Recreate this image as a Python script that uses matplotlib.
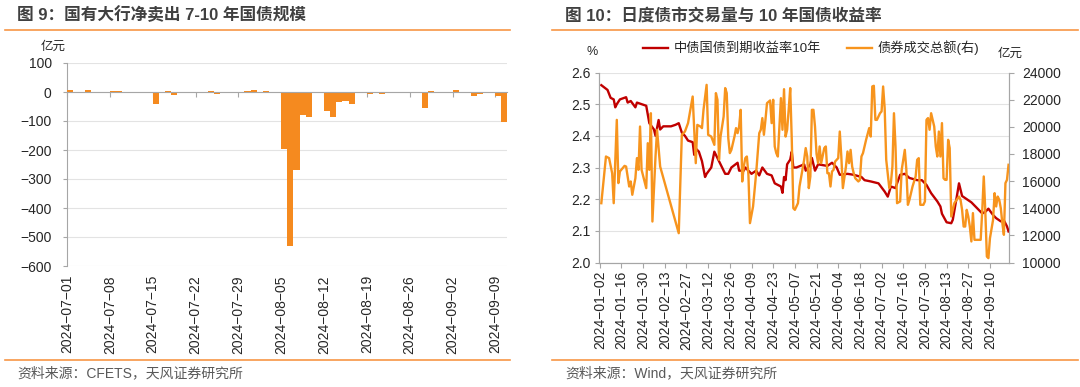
import matplotlib
matplotlib.use('Agg')
import matplotlib.pyplot as plt
import matplotlib.dates as mdates
from matplotlib.lines import Line2D
from matplotlib.ticker import FuncFormatter, FixedLocator
import pandas as pd

plt.rcParams['font.family'] = ['Liberation Sans', 'Noto Sans CJK SC']
plt.rcParams['axes.unicode_minus'] = True

# ---------------- data: left chart (亿元) ----------------
bar_dates = ['2024-07-01', '2024-07-02', '2024-07-04', '2024-07-05', '2024-07-08', '2024-07-09',
             '2024-07-11', '2024-07-12', '2024-07-15', '2024-07-17', '2024-07-18', '2024-07-19',
             '2024-07-23', '2024-07-24', '2024-07-25', '2024-07-26', '2024-07-30', '2024-07-31',
             '2024-08-02', '2024-08-05', '2024-08-06', '2024-08-07', '2024-08-08', '2024-08-09',
             '2024-08-12', '2024-08-13', '2024-08-14', '2024-08-15', '2024-08-16', '2024-08-19',
             '2024-08-21', '2024-08-23', '2024-08-26', '2024-08-28', '2024-08-29', '2024-08-30',
             '2024-09-02', '2024-09-03', '2024-09-05', '2024-09-06', '2024-09-09', '2024-09-10']
bar_values = [7, -3, 7, -3, 4, 3,
              -5, -2, -40, 3, -12, -2,
              -2, 4, -8, -2, 4, 6,
              4, -197, -531, -269, -79, -86,
              -64, -86, -36, -32, -40, -8,
              -8, -3, -2, -55, 2, 1,
              6, 1, -15, -8, -13, -105]
left_ticks = ['2024-07-01', '2024-07-08', '2024-07-15', '2024-07-22', '2024-07-29', '2024-08-05',
              '2024-08-12', '2024-08-19', '2024-08-26', '2024-09-02', '2024-09-09']

# ---------------- data: right chart ----------------
yield_dates = ['2024-01-03', '2024-01-07', '2024-01-09', '2024-01-11', '2024-01-12', '2024-01-13',
               '2024-01-15', '2024-01-19', '2024-01-20', '2024-01-22', '2024-01-25', '2024-01-26',
               '2024-01-29', '2024-02-01', '2024-02-03', '2024-02-06', '2024-02-07', '2024-02-09',
               '2024-02-10', '2024-02-12', '2024-02-17', '2024-02-20', '2024-02-22', '2024-02-24',
               '2024-02-26', '2024-02-28', '2024-03-02', '2024-03-03', '2024-03-04', '2024-03-06',
               '2024-03-08', '2024-03-10', '2024-03-11', '2024-03-14', '2024-03-16', '2024-03-18',
               '2024-03-20', '2024-03-23', '2024-03-25', '2024-03-27', '2024-03-31', '2024-04-01',
               '2024-04-04', '2024-04-05', '2024-04-09', '2024-04-12', '2024-04-14', '2024-04-16',
               '2024-04-19', '2024-04-22', '2024-04-24', '2024-04-28', '2024-04-29', '2024-04-30',
               '2024-05-01', '2024-05-02', '2024-05-04', '2024-05-05', '2024-05-06', '2024-05-08',
               '2024-05-13', '2024-05-14', '2024-05-17', '2024-05-18', '2024-05-20', '2024-05-22',
               '2024-05-28', '2024-05-31', '2024-06-03', '2024-06-05', '2024-06-10', '2024-06-14',
               '2024-06-19', '2024-06-21', '2024-06-25', '2024-06-30', '2024-07-04', '2024-07-06',
               '2024-07-08', '2024-07-11', '2024-07-12', '2024-07-14', '2024-07-17', '2024-07-20',
               '2024-07-25', '2024-07-28', '2024-07-31', '2024-08-03', '2024-08-07', '2024-08-09',
               '2024-08-10', '2024-08-11', '2024-08-13', '2024-08-16', '2024-08-17', '2024-08-20',
               '2024-08-21', '2024-08-23', '2024-08-26', '2024-08-29', '2024-09-02', '2024-09-05',
               '2024-09-07', '2024-09-09', '2024-09-12', '2024-09-14', '2024-09-17', '2024-09-19',
               '2024-09-21', '2024-09-22']
yield_values = [2.56, 2.545, 2.52, 2.515, 2.49, 2.50,
                2.515, 2.522, 2.505, 2.51, 2.49, 2.505,
                2.50, 2.495, 2.44, 2.42, 2.40, 2.45,
                2.42, 2.43, 2.43, 2.435, 2.44, 2.41,
                2.40, 2.385, 2.38, 2.34, 2.36, 2.35,
                2.32, 2.27, 2.28, 2.30, 2.35, 2.33,
                2.31, 2.28, 2.28, 2.30, 2.315, 2.29,
                2.29, 2.30, 2.28, 2.29, 2.275, 2.30,
                2.28, 2.275, 2.25, 2.24, 2.22, 2.27,
                2.26, 2.31, 2.325, 2.35, 2.30, 2.30,
                2.31, 2.29, 2.31, 2.33, 2.29, 2.31,
                2.305, 2.315, 2.30, 2.277, 2.28, 2.277,
                2.27, 2.26, 2.256, 2.25, 2.224, 2.208,
                2.24, 2.235, 2.25, 2.277, 2.28, 2.267,
                2.26, 2.26, 2.245, 2.219, 2.193, 2.177,
                2.154, 2.145, 2.127, 2.124, 2.135, 2.22,
                2.25, 2.21, 2.20, 2.19, 2.17, 2.155,
                2.16, 2.17, 2.15, 2.14, 2.13, 2.133,
                2.114, 2.098]

vol_dates = ['2024-01-03', '2024-01-06', '2024-01-08', '2024-01-10', '2024-01-11', '2024-01-13',
             '2024-01-14', '2024-01-15', '2024-01-18', '2024-01-19', '2024-01-21', '2024-01-22',
             '2024-01-23', '2024-01-25', '2024-01-26', '2024-01-27', '2024-01-28', '2024-01-29',
             '2024-02-01', '2024-02-02', '2024-02-03', '2024-02-04', '2024-02-05', '2024-02-07',
             '2024-02-08', '2024-02-10', '2024-02-22', '2024-02-24', '2024-02-26', '2024-02-28',
             '2024-03-02', '2024-03-03', '2024-03-04', '2024-03-05', '2024-03-07', '2024-03-08',
             '2024-03-09', '2024-03-11', '2024-03-12', '2024-03-14', '2024-03-16', '2024-03-17',
             '2024-03-18', '2024-03-19', '2024-03-20', '2024-03-22', '2024-03-23', '2024-03-24',
             '2024-03-25', '2024-03-26', '2024-03-27', '2024-03-29', '2024-03-30', '2024-03-31',
             '2024-04-01', '2024-04-02', '2024-04-03', '2024-04-04', '2024-04-05', '2024-04-06',
             '2024-04-07', '2024-04-08', '2024-04-10', '2024-04-11', '2024-04-12', '2024-04-14',
             '2024-04-15', '2024-04-16', '2024-04-17', '2024-04-18', '2024-04-19', '2024-04-21',
             '2024-04-22', '2024-04-23', '2024-04-24', '2024-04-25', '2024-04-26', '2024-04-27',
             '2024-04-28', '2024-04-29', '2024-04-30', '2024-05-01', '2024-05-02', '2024-05-03',
             '2024-05-04', '2024-05-05', '2024-05-06', '2024-05-07', '2024-05-09', '2024-05-10',
             '2024-05-13', '2024-05-14', '2024-05-15', '2024-05-16', '2024-05-17', '2024-05-18',
             '2024-05-19', '2024-05-20', '2024-05-21', '2024-05-22', '2024-05-23', '2024-05-24',
             '2024-05-26', '2024-05-27', '2024-05-28', '2024-05-29', '2024-05-30', '2024-05-31',
             '2024-06-01', '2024-06-02', '2024-06-04', '2024-06-05', '2024-06-06', '2024-06-07',
             '2024-06-09', '2024-06-10', '2024-06-11', '2024-06-12', '2024-06-13', '2024-06-14',
             '2024-06-15', '2024-06-17', '2024-06-18', '2024-06-19', '2024-06-20', '2024-06-21',
             '2024-06-22', '2024-06-24', '2024-06-25', '2024-06-26', '2024-06-27', '2024-06-28',
             '2024-06-29', '2024-07-01', '2024-07-02', '2024-07-03', '2024-07-04', '2024-07-05',
             '2024-07-07', '2024-07-08', '2024-07-09', '2024-07-10', '2024-07-11', '2024-07-12',
             '2024-07-14', '2024-07-15', '2024-07-17', '2024-07-18', '2024-07-19', '2024-07-20',
             '2024-07-22', '2024-07-24', '2024-07-25', '2024-07-26', '2024-07-27', '2024-07-29',
             '2024-07-30', '2024-07-31', '2024-08-01', '2024-08-02', '2024-08-03', '2024-08-05',
             '2024-08-06', '2024-08-07', '2024-08-08', '2024-08-09', '2024-08-10', '2024-08-11',
             '2024-08-12', '2024-08-13', '2024-08-14', '2024-08-15', '2024-08-16', '2024-08-18',
             '2024-08-21', '2024-08-22', '2024-08-23', '2024-08-24', '2024-08-25', '2024-08-26',
             '2024-08-27', '2024-08-28', '2024-08-29', '2024-08-30', '2024-08-31', '2024-09-02',
             '2024-09-04', '2024-09-05', '2024-09-06', '2024-09-07', '2024-09-08', '2024-09-09',
             '2024-09-10', '2024-09-12', '2024-09-13', '2024-09-14', '2024-09-15', '2024-09-16',
             '2024-09-17', '2024-09-18', '2024-09-19', '2024-09-20', '2024-09-21', '2024-09-22']
vol_values = [14370, 17810, 17690, 16580, 14370, 20510,
              15850, 16710, 17120, 17070, 15600, 15970,
              14990, 16210, 17690, 16830, 20020, 16830,
              15480, 18790, 16830, 21000, 13020, 17810,
              19780, 17070, 12160, 19410, 19650, 20270,
              22230, 19780, 17320, 20140, 20020, 19900,
              21250, 23090, 19410, 19280, 18670, 22480,
              21990, 17570, 19280, 20760, 22850, 22480,
              19160, 18060, 18300, 19280, 19900, 19530,
              20020, 21250, 15970, 17070, 17690, 17810,
              16460, 12900, 14130, 15360, 16580, 19530,
              19780, 20640, 19410, 20510, 21740, 21940,
              20270, 21990, 18550, 18060, 17810, 19900,
              22110, 19780, 22770, 19280, 19780, 21250,
              22850, 19040, 14000, 13880, 14370, 15600,
              17570, 18430, 17810, 15480, 16340, 21250,
              21250, 20020, 18000, 17320, 18550, 17320,
              18430, 18550, 16580, 16580, 15600, 16710,
              16830, 17440, 17690, 19650, 17810, 15480,
              17070, 18180, 17320, 18300, 17070, 16580,
              16210, 15970, 16090, 17810, 18060, 18550,
              19040, 19900, 19280, 22970, 23020, 20510,
              20510, 21000, 21130, 22970, 21370, 17570,
              15480, 15850, 17070, 21000, 18550, 14370,
              14500, 16830, 18300, 16830, 14250, 14620,
              15600, 16340, 17570, 17690, 14250, 14250,
              14500, 20510, 20640, 19780, 21000, 20020,
              18550, 17810, 19650, 17810, 20270, 16210,
              16090, 16090, 19040, 18430, 13390, 14370,
              14860, 14620, 13880, 12650, 12650, 13880,
              13390, 12650, 11550, 13640, 11670, 11670,
              11670, 13760, 16340, 13760, 10440, 10320,
              11790, 13140, 15110, 14130, 14860, 14620,
              14000, 12900, 12040, 15850, 16090, 17200]
right_ticks = ['2024-01-02', '2024-01-16', '2024-01-30', '2024-02-13', '2024-02-27', '2024-03-12',
               '2024-03-26', '2024-04-09', '2024-04-23', '2024-05-07', '2024-05-21', '2024-06-04',
               '2024-06-18', '2024-07-02', '2024-07-16', '2024-07-30', '2024-08-13', '2024-08-27',
               '2024-09-10']

title_left = '图 9：国有大行净卖出 7-10 年国债规模'
title_right = '图 10：日度债市交易量与 10 年国债收益率'
source_left = '资料来源：CFETS，天风证券研究所'
source_right = '资料来源：Wind，天风证券研究所'
legend_labels = ['中债国债到期收益率10年', '债券成交总额(右)']

# ---------------- styles ----------------
ORANGE_BAR = '#F58A1F'
ORANGE_LINE = '#F7941D'
RED = '#C00000'
RULE = '#F79646'
AXIS = '#A6A6A6'
GRID = '#E3E3E3'
TXT = '#262626'


def to_num(ds):
    return mdates.date2num(pd.to_datetime(ds))


def date_fmt(x, pos=None):
    return mdates.num2date(x).strftime('%Y-%m-%d').replace('-', '\u2212')


W, H = 1080, 387
fig = plt.figure(figsize=(W / 100, H / 100), dpi=100)

# ---------------- left chart ----------------
ax1 = fig.add_axes([67 / W, 1 - 266 / H, 440 / W, 203 / H])
bx = to_num(bar_dates)
ax1.bar(bx, bar_values, width=1.0, align='edge', color=ORANGE_BAR, linewidth=0, zorder=3)
x0 = to_num(['2024-07-01'])[0]
ax1.set_xlim(x0, x0 + 71.9)
ax1.set_ylim(-600, 100)
ax1.set_yticks(range(-600, 101, 100))
ax1.yaxis.grid(True, color=GRID, lw=0.8)
ax1.set_axisbelow(True)
for s in ['top', 'right']:
    ax1.spines[s].set_visible(False)
ax1.spines['left'].set_color(AXIS)
ax1.spines['bottom'].set_color(AXIS)
ax1.spines['bottom'].set_position(('data', 0))
ax1.spines['bottom'].set_zorder(4)
ax1.xaxis.set_major_locator(FixedLocator(to_num(left_ticks)))
ax1.tick_params(axis='x', direction='out', length=3.5, color=AXIS, labelbottom=False)
ax1.tick_params(axis='y', direction='out', length=3, color=AXIS, labelsize=10,
                labelcolor=TXT, pad=8)
sec = ax1.secondary_xaxis('bottom')
sec.xaxis.set_major_locator(FixedLocator(to_num(left_ticks)))
sec.xaxis.set_major_formatter(FuncFormatter(date_fmt))
sec.tick_params(length=0, pad=6.5, labelsize=10, labelcolor=TXT, labelrotation=90)
sec.spines['bottom'].set_visible(False)

# ---------------- right chart ----------------
ax2 = fig.add_axes([599 / W, 1 - 262.5 / H, 410 / W, 190 / H])
l1, = ax2.plot(to_num(yield_dates), yield_values, color=RED, lw=1.7, zorder=3)
ax3 = ax2.twinx()
l2, = ax3.plot(to_num(vol_dates), vol_values, color=ORANGE_LINE, lw=1.7, zorder=3)
xs = to_num(['2024-01-02'])[0]
ax2.set_xlim(xs - 0.5, xs + 264.3)
ax2.set_ylim(2.0, 2.6)
ax2.set_yticks([2.0, 2.1, 2.2, 2.3, 2.4, 2.5, 2.6])
ax2.yaxis.set_major_formatter(FuncFormatter(lambda v, p: f'{v:.1f}'))
ax3.set_ylim(10000, 24000)
ax3.set_yticks(range(10000, 24001, 2000))
ax2.yaxis.grid(True, color=GRID, lw=0.8)
ax2.set_axisbelow(True)
for a in (ax2, ax3):
    a.spines['top'].set_visible(False)
    for s in ['left', 'right', 'bottom']:
        a.spines[s].set_color(AXIS)
ax2.xaxis.set_major_locator(FixedLocator(to_num(right_ticks)))
ax2.xaxis.set_major_formatter(FuncFormatter(date_fmt))
ax2.tick_params(axis='x', direction='out', length=3.5, color=AXIS, labelsize=10,
                labelcolor=TXT, labelrotation=90, pad=2.5)
ax2.tick_params(axis='y', direction='out', length=3, color=AXIS, labelsize=10,
                labelcolor=TXT, pad=3)
ax3.tick_params(axis='y', direction='out', length=3.5, color=AXIS, labelsize=10,
                labelcolor=TXT, pad=6)

fig.legend([l1, l2], legend_labels, loc='center left', bbox_to_anchor=(643 / W, 1 - 48 / H),
           ncol=2, frameon=False, fontsize=9.5, handlelength=1.9, columnspacing=2.0,
           handletextpad=0.4, borderpad=0, borderaxespad=0, labelcolor=TXT)

# ---------------- texts & rules ----------------
fig.text(17 / W, 1 - 15 / H, title_left, fontsize=12, fontweight='bold', color='#404040',
         ha='left', va='center')
fig.text(565 / W, 1 - 15 / H, title_right, fontsize=12, fontweight='bold', color='#404040',
         ha='left', va='center')
fig.text(17 / W, 1 - 373 / H, source_left, fontsize=10, color='#595959', ha='left', va='center')
fig.text(565 / W, 1 - 373 / H, source_right, fontsize=10, color='#595959', ha='left', va='center')
fig.text(53 / W, 1 - 47 / H, '亿元', fontsize=9, color=TXT, ha='center', va='center')
fig.text(592 / W, 1 - 52 / H, '%', fontsize=9, color=TXT, ha='center', va='center')
fig.text(1010 / W, 1 - 54 / H, '亿元', fontsize=9, color=TXT, ha='center', va='center')

for (xa, xb) in [(5, 510), (552, 1078)]:
    for yy in (30, 360):
        fig.add_artist(Line2D([xa / W, xb / W], [1 - yy / H, 1 - yy / H], color=RULE, lw=1.2,
                              transform=fig.transFigure))

fig.savefig('out.png', dpi=100)
